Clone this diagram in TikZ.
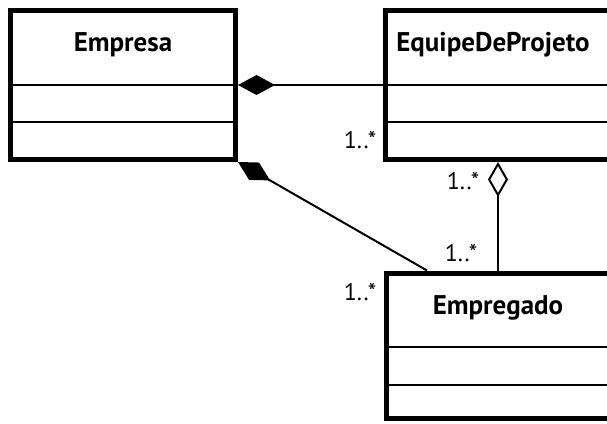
\documentclass[tikz,border=0pt]{standalone}
\usepackage{fontspec}
\setmainfont{PT Sans}
\usetikzlibrary{arrows.meta}
\tikzset{
  classbox/.style={draw, line width=5pt, rectangle, inner sep=0pt},
  compline/.style={line width=2pt},
  title/.style={font=\fontsize{27}{29}\selectfont\bfseries, inner sep=0pt},
  mult/.style={font=\fontsize{24}{26}\selectfont, inner sep=0pt},
  conn/.style={line width=2pt},
  comp/.style={conn, {Diamond[length=37pt,width=20pt,fill=black]}-},
  aggr/.style={conn, -{Diamond[open,length=35pt,width=20pt,line width=2pt]}}
}
\begin{document}
\begin{tikzpicture}[x=1pt,y=-1pt]
\useasboundingbox (0,0) rectangle (607,423);
\clip (0,0) rectangle (607,423);
% class boxes
\node[classbox, minimum width=225pt, minimum height=149pt] (emp) at (123,85) {};
\node[classbox, minimum width=260pt, minimum height=149pt] (eq) at (515.5,85) {};
\node[classbox, minimum width=260pt, minimum height=145.5pt] (eg) at (516.5,345.75) {};
% titles
\node[title] (empt) at (123,45) {Empresa};
\node[title] (eqt) at (493,45) {EquipeDeProjeto};
\node[title] (egt) at (498,308) {Empregado};
% compartments
\draw[compline] (emp.west |- 0,85) -- (emp.east |- 0,85);
\draw[compline] (emp.west |- 0,122) -- (emp.east |- 0,122);
\draw[compline] (eq.west |- 0,85) -- (eq.east |- 0,85);
\draw[compline] (eq.west |- 0,122) -- (eq.east |- 0,122);
\draw[compline] (eg.west |- 0,347) -- (eg.east |- 0,347);
\draw[compline] (eg.west |- 0,385) -- (eg.east |- 0,385);
% connectors
\draw[comp] (emp.east |- 0,85) -- (eq.west |- 0,85);
\draw[comp] (emp.south east) -- (eg.north -| 427,0);
\draw[aggr] (eg.north -| 498,0) -- (eq.south -| 498,0);
% multiplicities
\node[mult] (m1) at (360,140) {1..*};
\node[mult] (m2) at (463,181) {1..*};
\node[mult] (m3) at (461,253) {1..*};
\node[mult] (m4) at (360,292) {1..*};
\end{tikzpicture}
\end{document}
